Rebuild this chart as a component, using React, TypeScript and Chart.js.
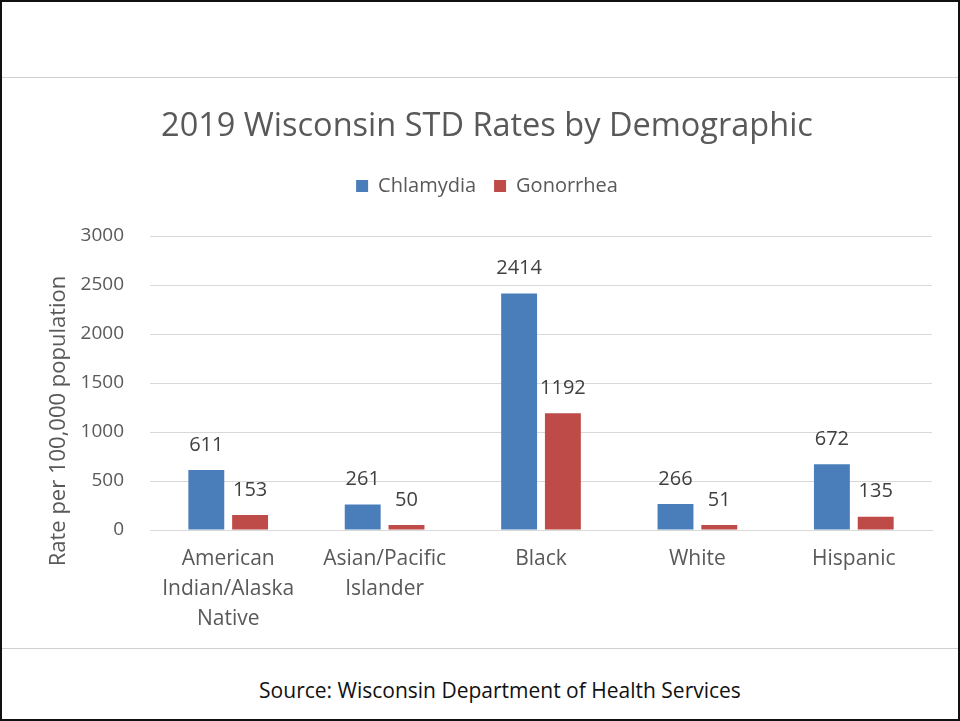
import React, { useEffect, useRef } from "react";
import { Chart, registerables } from "chart.js";

Chart.register(...registerables);

const categories: string[][] = [
  ["American", "Indian/Alaska", "Native"],
  ["Asian/Pacific", "Islander"],
  ["Black"],
  ["White"],
  ["Hispanic"],
];
const chlamydia = [611, 261, 2414, 266, 672];
const gonorrhea = [153, 50, 1192, 51, 135];
const seriesNames = ["Chlamydia", "Gonorrhea"];
const yTicks = [0, 500, 1000, 1500, 2000, 2500, 3000];
const yTitle = "Rate per 100,000 population";

const FONT = "'Open Sans', 'Noto Sans', sans-serif";
const TEXT = "#595959";

const valueLabels = {
  id: "valueLabels",
  afterDatasetsDraw(chart: any) {
    const ctx = chart.ctx;
    ctx.save();
    ctx.font = `20px ${FONT}`;
    ctx.fillStyle = "#404040";
    ctx.textAlign = "center";
    ctx.textBaseline = "middle";
    chart.data.datasets.forEach((ds: any, i: number) => {
      const meta = chart.getDatasetMeta(i);
      meta.data.forEach((bar: any, j: number) => {
        ctx.fillText(String(ds.data[j]), bar.x, bar.y - 25);
      });
    });
    ctx.restore();
  },
};

const yTitlePlugin = {
  id: "yTitlePlugin",
  afterDraw(chart: any) {
    const ctx = chart.ctx;
    const area = chart.chartArea;
    ctx.save();
    ctx.font = `22px ${FONT}`;
    ctx.fillStyle = TEXT;
    ctx.textAlign = "center";
    ctx.textBaseline = "middle";
    ctx.translate(57, area.bottom - 109);
    ctx.rotate(-Math.PI / 2);
    ctx.fillText(yTitle, 0, 0);
    ctx.restore();
  },
};

const legendMargin = {
  id: "legendMargin",
  beforeInit(chart: any) {
    const legend = chart.legend;
    if (!legend) return;
    const orig = legend.fit;
    legend.fit = function () {
      orig.bind(legend)();
      legend.height += 30;
    };
  },
};

export default function App() {
  const ref = useRef<HTMLCanvasElement>(null);
  useEffect(() => {
    if (!ref.current) return;
    const chart = new Chart(ref.current, {
      type: "bar",
      data: {
        labels: categories,
        datasets: [
          { label: seriesNames[0], data: chlamydia, backgroundColor: "#4a7ebb" },
          { label: seriesNames[1], data: gonorrhea, backgroundColor: "#be4b48" },
        ],
      },
      plugins: [valueLabels, yTitlePlugin, legendMargin],
      options: {
        animation: false,
        responsive: false,
        maintainAspectRatio: false,
        layout: { padding: { left: 14, right: 0, top: 0, bottom: 0 } },
        datasets: { bar: { categoryPercentage: 0.56, barPercentage: 0.82 } } as any,
        plugins: {
          tooltip: { enabled: false },
          title: {
            display: true,
            text: "2019 Wisconsin STD Rates by Demographic",
            color: TEXT,
            font: { family: FONT, size: 32.5, weight: "normal" as any },
            padding: { top: 29, bottom: 12 },
          },
          legend: {
            display: true,
            labels: {
              color: TEXT,
              font: { family: FONT, size: 20 },
              boxWidth: 12,
              boxHeight: 12,
              padding: 18,
            },
          },
        },
        scales: {
          x: {
            grid: { display: false, drawTicks: false },
            border: { display: true, color: "#d9d9d9" },
            ticks: {
              color: TEXT,
              font: { family: FONT, size: 21, lineHeight: 1.43 },
              padding: 14,
              maxRotation: 0,
              autoSkip: false,
            },
            afterFit: (s: any) => { s.height = 118; },
          },
          y: {
            min: 0,
            max: 3000,
            afterBuildTicks: (s: any) => { s.ticks = yTicks.map((v) => ({ value: v })); },
            grid: { color: "#d9d9d9", drawTicks: false },
            border: { display: false },
            ticks: {
              color: TEXT,
              font: { family: FONT, size: 19 },
              padding: 26,
              callback: (v: any) => String(v),
            },
            afterFit: (s: any) => { s.width = 134; },
          },
          yRight: {
            type: "linear",
            position: "right",
            min: 0,
            max: 3000,
            grid: { display: false, drawTicks: false },
            border: { display: false },
            ticks: { display: false },
            afterFit: (s: any) => { s.width = 26; },
          },
        },
      },
    });
    return () => chart.destroy();
  }, []);

  return (
    <div
      style={{
        position: "absolute",
        left: 0,
        top: 0,
        width: 960,
        height: 721,
        background: "#fff",
        boxSizing: "border-box",
        border: "2px solid #111",
        fontFamily: FONT,
      }}
    >
      <div style={{ position: "absolute", left: 0, right: 0, top: 75, height: 1, background: "#d0d0d0" }} />
      <div style={{ position: "absolute", left: 0, top: 76 }}>
        <canvas ref={ref} width={956} height={570} style={{ display: "block" }} />
      </div>
      <div style={{ position: "absolute", left: 0, right: 0, top: 646, height: 1, background: "#d0d0d0" }} />
      <div
        style={{
          position: "absolute",
          left: 40,
          right: 0,
          top: 675,
          textAlign: "center",
          fontSize: 21,
          color: "#111",
          fontFamily: "'Open Sans', sans-serif",
          lineHeight: "26px",
        }}
      >
        Source: Wisconsin Department of Health Services
      </div>
    </div>
  );
}
